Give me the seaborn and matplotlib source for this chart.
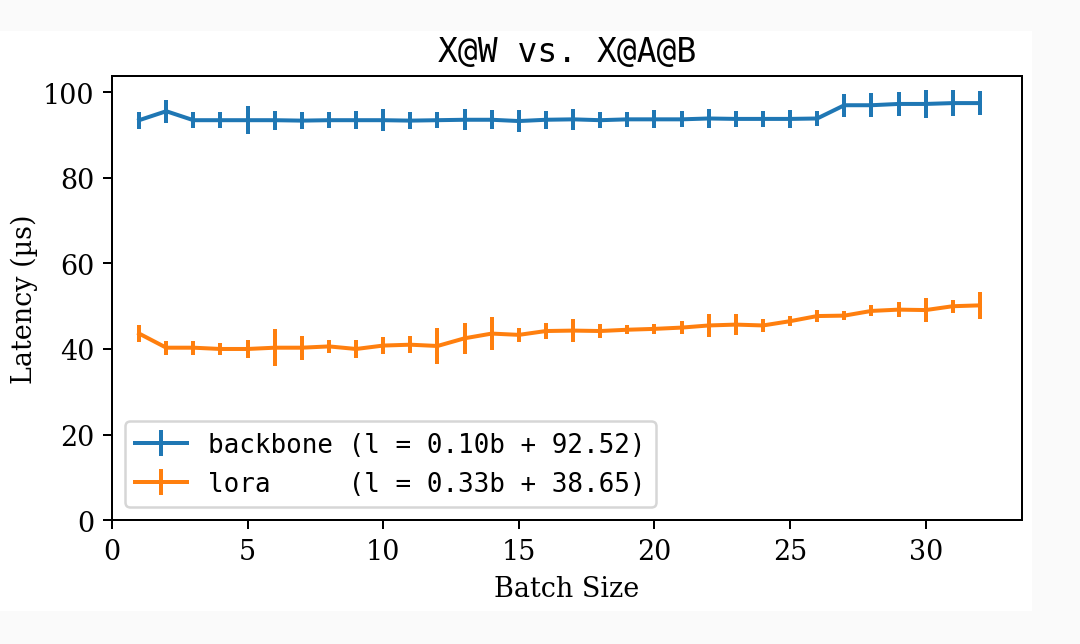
import seaborn as sns
import numpy as np
import matplotlib.pyplot as plt
from matplotlib.patches import Rectangle

batch = list(range(1, 33))

backbone_mean = [93.5, 95.6, 93.5, 93.5, 93.5, 93.5, 93.4, 93.5, 93.5, 93.5,
                 93.4, 93.5, 93.6, 93.6, 93.3, 93.6, 93.7, 93.5, 93.7, 93.7,
                 93.7, 93.9, 93.8, 93.8, 93.8, 93.9, 97.0, 97.0, 97.3, 97.3,
                 97.5, 97.5]
backbone_err = [2.0, 2.7, 1.8, 1.8, 3.3, 2.2, 1.9, 1.9, 2.1, 2.6,
                1.9, 1.9, 2.5, 2.2, 2.6, 2.1, 2.4, 1.8, 1.8, 2.1,
                1.9, 2.2, 1.9, 1.8, 2.1, 1.8, 2.7, 2.8, 2.8, 3.2,
                3.1, 2.8]

lora_mean = [43.6, 40.3, 40.3, 40.0, 40.0, 40.3, 40.3, 40.6, 40.0, 40.8,
             41.0, 40.7, 42.5, 43.6, 43.3, 44.2, 44.3, 44.2, 44.5, 44.7,
             45.0, 45.5, 45.7, 45.5, 46.5, 47.7, 47.8, 48.9, 49.2, 49.1,
             50.0, 50.2]
lora_err = [2.0, 1.6, 1.6, 1.5, 2.0, 4.3, 2.8, 1.5, 2.1, 2.0,
            2.0, 4.3, 3.6, 3.8, 1.6, 1.8, 2.7, 1.6, 1.1, 1.1,
            1.5, 2.7, 2.5, 1.5, 1.1, 1.4, 1.1, 1.3, 1.8, 2.8,
            1.5, 3.1]

names = ["backbone", "lora"]
slopes = ["0.10", "0.33"]
intercepts = ["92.52", "38.65"]

colors = sns.color_palette("tab10", 2)
plt.rcParams['font.family'] = 'serif'
plt.rcParams['font.serif'] = ['DejaVu Serif']
plt.rcParams['font.size'] = 10.8
plt.rcParams['lines.linewidth'] = 1.6

fig = plt.figure(figsize=(6.0, 3.5833), dpi=180, facecolor='#fafafa')
# white page inside the slightly grey screenshot border
fig.patches.append(Rectangle((0, 33 / 645), 1032 / 1080, 580 / 645,
                             transform=fig.transFigure, facecolor='white',
                             edgecolor='none', zorder=-10))
ax = fig.add_axes([0.1037, 0.1922, 0.8426, 0.6884])

series = [(backbone_mean, backbone_err), (lora_mean, lora_err)]
for i, (m, e) in enumerate(series):
    label = f"{names[i]:<8} (l = {slopes[i]}b + {intercepts[i]})"
    ax.errorbar(batch, m, yerr=e, color=colors[i], label=label)

ax.set_xlim(left=0)
ax.set_ylim(bottom=0)
ax.set_title("X@W vs. X@A@B", family='DejaVu Sans Mono', fontsize=13.2)
ax.set_xlabel("Batch Size")
ax.set_ylabel("Latency (µs)", labelpad=2)
ax.legend(loc='lower left', prop={'family': 'DejaVu Sans Mono', 'size': 10.4})

plt.savefig('out.png', dpi=180, facecolor=fig.get_facecolor())
